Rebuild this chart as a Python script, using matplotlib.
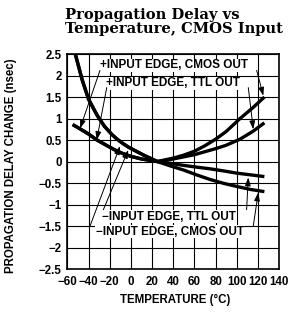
import matplotlib
matplotlib.use("Agg")
import matplotlib.pyplot as plt
import numpy as np

# Data
temp_minus = [-55, -52.5, -46, -40, -32, -25, -18, -13, -7, -2, 5, 12, 25, 37, 50, 62, 75, 88, 100, 113, 126]
minus_ttl = [2.78, 2.5, 1.9, 1.45, 1.08, 0.82, 0.63, 0.52, 0.41, 0.33, 0.24, 0.15, 0.0, -0.04, -0.09, -0.13, -0.17, -0.22, -0.27, -0.31, -0.35]
minus_cmos = [2.78, 2.5, 1.9, 1.45, 1.08, 0.82, 0.63, 0.52, 0.41, 0.33, 0.24, 0.15, 0.0, -0.1, -0.2, -0.31, -0.42, -0.51, -0.58, -0.65, -0.70]

temp_plus = [-55, -48, -40, -32, -24, -16, -8, 0, 10, 25, 40, 50, 60, 70, 80, 90, 103, 115, 126]
plus_cmos = [0.86, 0.76, 0.64, 0.5, 0.39, 0.28, 0.19, 0.12, 0.06, 0.0, 0.08, 0.15, 0.24, 0.37, 0.52, 0.7, 1.0, 1.25, 1.5]
plus_ttl = [0.86, 0.76, 0.64, 0.5, 0.39, 0.28, 0.19, 0.12, 0.06, 0.0, 0.06, 0.11, 0.16, 0.23, 0.3, 0.38, 0.52, 0.7, 0.9]

xticks = [-60, -40, -20, 0, 20, 40, 60, 80, 100, 120, 140]
yticks = [-2.5, -2, -1.5, -1, -0.5, 0, 0.5, 1, 1.5, 2, 2.5]
ytick_labels = ["\u22122.5", "\u22122", "\u22121.5", "\u22121", "\u22120.5", "0", "0.5", "1", "1.5", "2", "2.5"]
xtick_labels = ["\u221260", "\u221240", "\u221220", "0", "20", "40", "60", "80", "100", "120", "140"]

labels = ["+INPUT EDGE, CMOS OUT", "+INPUT EDGE, TTL OUT", "\u2212INPUT EDGE, TTL OUT", "\u2212INPUT EDGE, CMOS OUT"]
label_pos = [(-29.5, 2.24), (-23.5, 1.82), (-27, -1.28), (-33, -1.63)]
arrows = [
    [((-29.2, 2.12), (-48, 0.77)), ((118.7, 2.12), (125, 1.53))],
    [((-22.8, 1.72), (-32.3, 0.5)), ((110.8, 1.72), (115.5, 0.75))],
    [((-26, -1.12), (-2.5, 0.27)), ((109.2, -1.12), (110.8, -0.37))],
    [((-38.6, -1.5), (-10.3, 0.36)), ((115.5, -1.5), (120.2, -0.72))],
]

TXT = "Liberation Sans"

fig = plt.figure(figsize=(2.98, 3.18), dpi=100)
ax = fig.add_axes([0.226, 0.154, 0.711, 0.676])

lw = 2.4
ax.plot(temp_minus, minus_ttl, color="black", lw=lw, solid_capstyle="butt")
ax.plot(temp_minus, minus_cmos, color="black", lw=lw, solid_capstyle="butt")
ax.plot(temp_plus, plus_cmos, color="black", lw=lw, solid_capstyle="butt")
ax.plot(temp_plus, plus_ttl, color="black", lw=lw, solid_capstyle="butt")

ax.set_xlim(-60, 140)
ax.set_ylim(-2.5, 2.5)
ax.set_xticks(xticks)
ax.set_xticklabels(xtick_labels)
ax.set_yticks(yticks)
ax.set_yticklabels(ytick_labels)
ax.grid(True, color="black", lw=0.8)
ax.tick_params(length=0, labelsize=8.3)
ax.tick_params(axis="x", pad=5)
ax.tick_params(axis="y", pad=4)
for lab in ax.get_xticklabels() + ax.get_yticklabels():
    lab.set_family("Liberation Sans")
    lab.set_fontweight("bold")
for s in ax.spines.values():
    s.set_linewidth(1.2)

for text, pos, arrs in zip(labels, label_pos, arrows):
    ax.text(pos[0], pos[1], text, fontsize=8.5, family=TXT, fontweight="bold",
            va="center", ha="left",
            bbox=dict(facecolor="white", edgecolor="none", pad=0.3))
    for (start, end) in arrs:
        ax.annotate("", xy=end, xytext=start,
                    arrowprops=dict(arrowstyle="-|>,head_length=0.5,head_width=0.17",
                                    color="black", lw=0.7, shrinkA=0, shrinkB=0))

fig.text(175 / 298, 1 - 300 / 318, "TEMPERATURE (\u00b0C)", fontsize=8.3, family=TXT,
         fontweight="bold", ha="center", va="center")
fig.text(11 / 298, 1 - 166 / 318, "PROPAGATION DELAY CHANGE (nsec)", fontsize=8.3, family=TXT,
         fontweight="bold", ha="center", va="center", rotation=90)

fig.text(0.218, 0.975, "Propagation Delay vs\nTemperature, CMOS Input", ha="left", va="top",
         fontsize=10.6, fontweight="bold", family="DejaVu Serif", linespacing=1.05)

fig.savefig("out.png", dpi=100)
